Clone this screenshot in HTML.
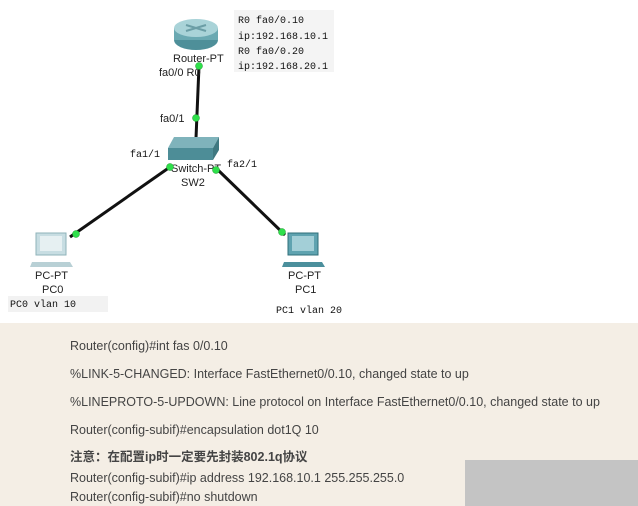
<!DOCTYPE html>
<html><head><meta charset="utf-8"><style>
html,body{margin:0;padding:0;background:#fff;width:638px;height:506px;overflow:hidden}
svg{display:block}
.m{font-family:"Liberation Mono","Noto Sans CJK SC",monospace;font-size:10px;fill:#111}
.s{font-family:"Liberation Sans",sans-serif;font-size:11px;fill:#222}
.c{font-family:"Liberation Sans","Noto Sans CJK SC",sans-serif;font-size:12.5px;fill:#444}
</style></head><body>
<svg width="638" height="506" viewBox="0 0 638 506" xmlns="http://www.w3.org/2000/svg">
<rect x="234" y="10" width="100" height="62" fill="#f4f4f4"/>
<text class="m" x="238" y="23">R0 fa0/0.10</text>
<text class="m" x="238" y="39">ip:192.168.10.1</text>
<text class="m" x="238" y="54">R0 fa0/0.20</text>
<text class="m" x="238" y="69">ip:192.168.20.1</text>
<g stroke="#111" stroke-width="3">
<line x1="199" y1="66" x2="196" y2="138"/>
<line x1="170" y1="167" x2="70" y2="237"/>
<line x1="218" y1="170" x2="285" y2="235"/>
</g>
<ellipse cx="196" cy="40" rx="22" ry="10" fill="#4e8f99"/>
<rect x="174" y="28" width="44" height="12" fill="#6aa9b2"/>
<ellipse cx="196" cy="28" rx="22" ry="9" fill="#a9d3d8"/>
<path d="M186 25 l20 6 M186 31 l20 -6" stroke="#6b9ea6" stroke-width="2"/>
<text class="s" x="173" y="62">Router-PT</text>
<text class="s" x="159" y="76">fa0/0 R0</text>
<polygon points="168,148 174,137 219,137 213,148" fill="#7fb3bb"/>
<polygon points="168,148 213,148 213,160 168,160" fill="#4d8d97"/>
<polygon points="213,148 219,137 219,150 213,160" fill="#3f7880"/>
<text class="s" x="171" y="172">Switch-PT</text>
<text class="s" x="181" y="186">SW2</text>
<text class="s" x="160" y="122">fa0/1</text>
<text class="m" x="130" y="157">fa1/1</text>
<text class="m" x="227" y="167">fa2/1</text>
<g>
<rect x="36" y="233" width="30" height="22" fill="#c7dde2" stroke="#8fb3ba"/>
<rect x="40" y="236" width="22" height="15" fill="#e6f0f2"/>
<polygon points="32,262 70,262 73,267 30,267" fill="#b8d0d5"/>
<text class="s" x="35" y="279">PC-PT</text>
<text class="s" x="42" y="293">PC0</text>
<rect x="8" y="296" width="100" height="16" fill="#f2f2f2"/>
<text class="m" x="10" y="307">PC0 vlan 10</text>
</g>
<g>
<rect x="288" y="233" width="30" height="22" fill="#5fa3b0" stroke="#2f6f7a"/>
<rect x="292" y="236" width="22" height="15" fill="#a3cfd7"/>
<polygon points="284,262 322,262 325,267 282,267" fill="#4b8f9c"/>
<text class="s" x="288" y="279">PC-PT</text>
<text class="s" x="295" y="293">PC1</text>
<text class="m" x="276" y="313">PC1 vlan 20</text>
</g>
<g fill="#2ee04a" stroke="#1a9a2c" stroke-width="0.5">
<circle cx="199" cy="66" r="3.5"/><circle cx="196" cy="118" r="3.5"/>
<circle cx="170" cy="167" r="3.5"/><circle cx="216" cy="170" r="3.5"/>
<circle cx="76" cy="234" r="3.5"/><circle cx="282" cy="232" r="3.5"/>
</g>
<rect x="0" y="323" width="638" height="183" fill="#f4eee5"/>
<rect x="465" y="460" width="173" height="46" fill="#c4c4c4"/>
<text class="c" x="70" y="350">Router(config)#int fas 0/0.10</text>
<text class="c" x="70" y="378">%LINK-5-CHANGED: Interface FastEthernet0/0.10, changed state to up</text>
<text class="c" x="70" y="406">%LINEPROTO-5-UPDOWN: Line protocol on Interface FastEthernet0/0.10, changed state to up</text>
<text class="c" x="70" y="434">Router(config-subif)#encapsulation dot1Q 10</text>
<text class="c" x="70" y="461" font-weight="bold">注意：在配置ip时一定要先封装802.1q协议</text>
<text class="c" x="70" y="482">Router(config-subif)#ip address 192.168.10.1 255.255.255.0</text>
<text class="c" x="70" y="501">Router(config-subif)#no shutdown</text>
</svg>
</body></html>
